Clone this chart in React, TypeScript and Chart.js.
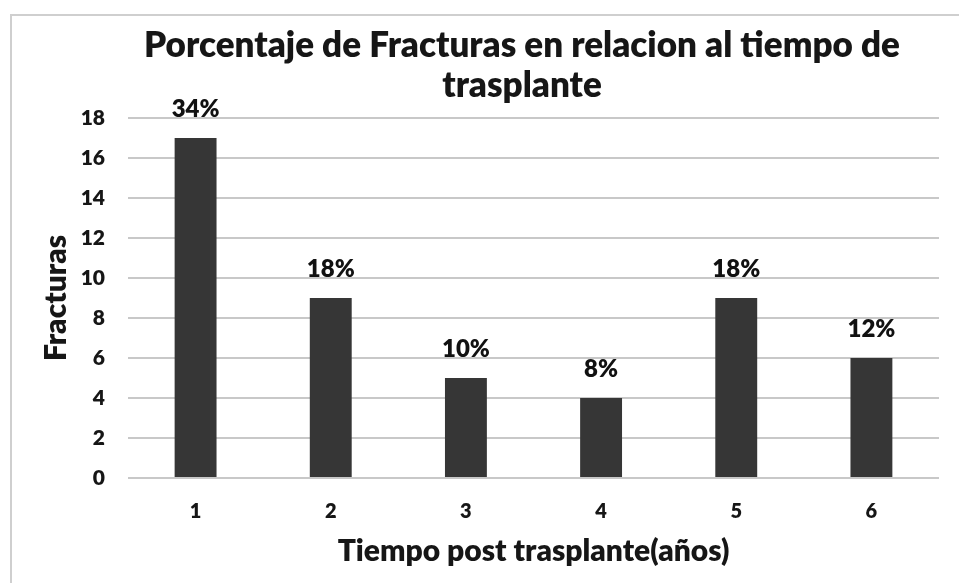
import React, { useEffect, useRef } from "react";
import { Chart, registerables } from "chart.js";

Chart.register(...registerables);

const categories = ["1", "2", "3", "4", "5", "6"];
const fracturas = [17, 9, 5, 4, 9, 6];
const percentLabels = ["34%", "18%", "10%", "8%", "18%", "12%"];
const titleLines = ["Porcentaje de Fracturas en relacion al tiempo de", "trasplante"];
const xTitle = "Tiempo post trasplante(años)";
const yTitle = "Fracturas";

const FONT = "Lato, 'Open Sans', sans-serif";
const WEIGHT = "800";

const framePlugin = {
  id: "frame",
  beforeDraw(chart: any) {
    const ctx = chart.ctx;
    ctx.save();
    ctx.fillStyle = "#ffffff";
    ctx.fillRect(0, 0, chart.width, chart.height);
    ctx.strokeStyle = "#cfcfcf";
    ctx.lineWidth = 2;
    ctx.strokeRect(11, 15, chart.width + 20, chart.height + 20);
    ctx.restore();
  },
};

const titlePlugin = {
  id: "twoLineTitle",
  afterDraw(chart: any) {
    const ctx = chart.ctx;
    ctx.save();
    ctx.font = `${WEIGHT} 35px ${FONT}`;
    ctx.fillStyle = "#161616";
    ctx.textAlign = "center";
    ctx.textBaseline = "alphabetic";
    const cx = 522;
    titleLines.forEach((line, i) => {
      ctx.fillText(line, cx, 57 + i * 40);
    });
    ctx.restore();
  },
};

const labelPlugin = {
  id: "pctLabels",
  afterDatasetsDraw(chart: any) {
    const ctx = chart.ctx;
    const meta = chart.getDatasetMeta(0);
    ctx.save();
    ctx.font = `${WEIGHT} 24px ${FONT}`;
    ctx.fillStyle = "#111111";
    ctx.textAlign = "center";
    ctx.textBaseline = "middle";
    meta.data.forEach((bar: any, i: number) => {
      ctx.fillText(percentLabels[i], bar.x, bar.y - 29);
    });
    ctx.restore();
  },
};

export default function App() {
  const ref = useRef<HTMLCanvasElement>(null);
  useEffect(() => {
    if (!ref.current) return;
    const chart = new Chart(ref.current, {
      type: "bar",
      data: {
        labels: categories,
        datasets: [
          {
            data: fracturas,
            backgroundColor: "#363636",
            borderWidth: 0,
            categoryPercentage: 1,
            barPercentage: 0.31,
          },
        ],
      },
      options: {
        animation: false,
        responsive: false,
        maintainAspectRatio: false,
        layout: { padding: { top: 118, left: 0, right: 20, bottom: 0 } },
        plugins: {
          legend: { display: false },
          tooltip: { enabled: false },
          title: { display: false },
        },
        scales: {
          x: {
            grid: { display: false, drawTicks: false },
            border: { display: false },
            ticks: {
              color: "#161616",
              font: { family: FONT, size: 20, weight: WEIGHT },
              padding: 22,
            },
            title: {
              display: true,
              text: xTitle,
              color: "#161616",
              font: { family: FONT, size: 30, weight: WEIGHT },
              padding: { top: 0, bottom: 14 },
            },
            afterFit(scale: any) {
              scale.height = 105;
            },
          },
          y: {
            min: 0,
            max: 18,
            ticks: {
              stepSize: 2,
              color: "#161616",
              font: { family: FONT, size: 21, weight: WEIGHT },
              padding: 23,
            },
            grid: { color: "#c8c8c8", lineWidth: 2, drawTicks: false },
            border: { display: false },
            title: {
              display: true,
              text: yTitle,
              color: "#161616",
              font: { family: FONT, size: 30, weight: WEIGHT },
              padding: { top: 38, bottom: 0 },
            },
            afterFit(scale: any) {
              scale.width = 128;
            },
          },
        },
      },
      plugins: [framePlugin, labelPlugin, titlePlugin],
    });
    return () => chart.destroy();
  }, []);
  return (
    <div style={{ position: "fixed", left: 0, top: 0, width: 959, height: 583 }}>
      <canvas ref={ref} width={959} height={583} style={{ display: "block" }} />
    </div>
  );
}
